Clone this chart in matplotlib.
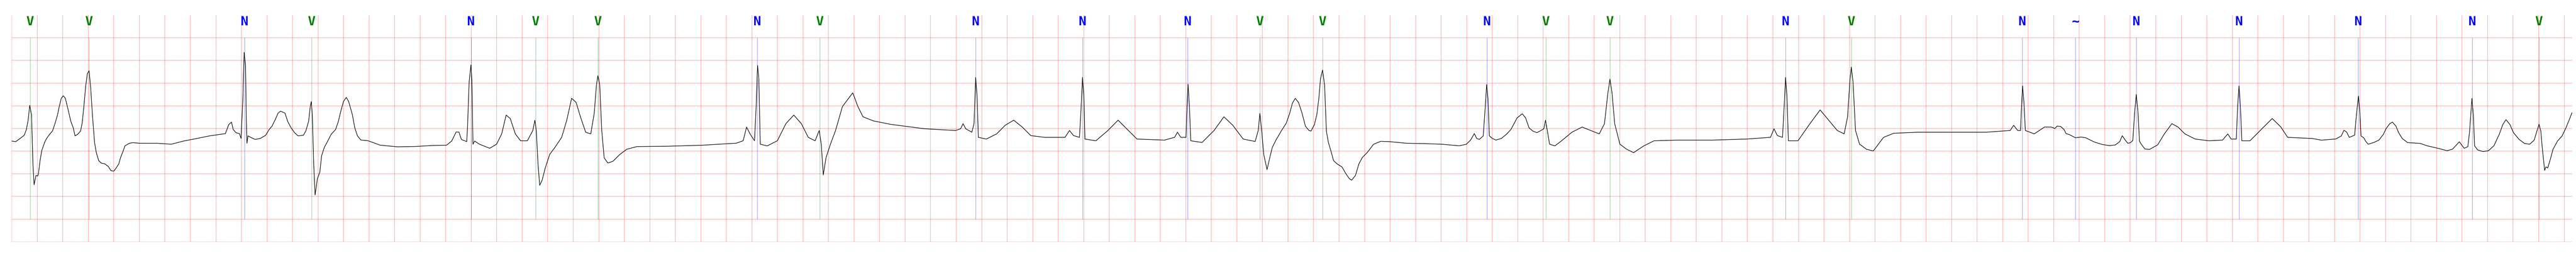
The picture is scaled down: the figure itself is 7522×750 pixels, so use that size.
import numpy as np
import matplotlib
matplotlib.use("Agg")
import matplotlib.pyplot as plt

# ---- data -------------------------------------------------------------
ecg_time = [
 0.000,0.031,0.069,0.098,0.115,0.128,0.141,0.155,0.166,0.175,0.190,0.203,0.209,0.222,0.235,0.257,0.270,0.297,0.319,0.340,
 0.359,0.372,0.388,0.404,0.420,0.442,0.463,0.482,0.496,0.517,0.539,0.552,0.565,0.579,0.592,0.606,0.619,0.632,0.649,0.662,
 0.681,0.702,0.729,0.756,0.777,0.799,0.818,0.839,0.853,0.874,0.887,0.922,0.949,1.003,1.140,1.250,1.346,1.413,1.550,1.674,
 1.700,1.722,1.735,1.757,1.784,1.797,1.811,1.821,1.832,1.837,1.843,1.851,1.880,1.907,1.947,1.990,2.017,2.039,2.065,2.087,
 2.106,2.141,2.162,2.189,2.216,2.243,2.285,2.304,2.326,2.339,2.347,2.355,2.366,2.377,2.395,2.414,2.428,2.449,2.476,2.503,
 2.538,2.559,2.578,2.599,2.621,2.640,2.669,2.688,2.709,2.736,2.790,2.833,2.887,3.023,3.160,3.297,3.407,3.447,3.482,3.504,
 3.523,3.565,3.571,3.584,3.598,3.606,3.614,3.627,3.665,
 3.745,3.799,3.839,3.874,3.906,3.946,3.987,4.040,4.083,4.099,4.110,4.124,4.137,4.156,4.180,4.215,4.255,4.309,4.349,4.387,
 4.422,4.456,4.497,4.537,4.564,4.582,4.593,4.607,4.623,4.642,4.671,4.711,4.765,4.819,4.899,5.141,5.409,5.677,5.731,5.758,
 5.785,5.820,5.833,5.844,5.854,5.865,5.919,5.999,6.066,6.128,6.187,6.241,6.295,6.327,6.343,6.359,6.380,6.415,6.455,6.509,
 6.590,6.630,6.670,6.751,6.885,7.153,7.395,7.435,7.454,7.475,7.523,7.540,7.553,7.564,7.574,7.636,7.717,7.784,7.851,7.918,
 7.985,8.092,8.253,8.288,8.320,8.366,8.377,8.390,8.401,8.409,8.495,8.589,8.669,8.736,8.817,9.032,9.112,9.134,9.160,9.201,
 9.209,9.217,9.228,9.238,9.327,9.421,9.498,9.568,9.649,9.743,9.767,9.780,9.794,9.810,
 9.836,9.858,9.877,9.906,9.947,9.987,10.014,10.035,10.057,10.083,10.110,10.137,10.164,10.180,10.207,10.226,10.242,10.255,
 10.271,10.287,10.301,10.317,10.336,10.357,10.384,10.424,10.454,10.481,10.499,10.529,10.556,10.583,10.623,10.671,10.727,
 10.795,10.931,11.068,11.205,11.342,11.398,11.431,11.460,11.479,11.500,11.530,11.546,11.557,11.567,11.578,11.602,11.629,
 11.672,11.712,11.747,11.774,11.795,11.836,11.862,11.889,11.919,11.951,11.983,
 12.005,12.018,12.032,12.050,12.091,12.144,12.225,12.305,12.372,12.439,12.480,12.507,12.523,12.539,12.560,12.601,12.654,
 12.708,12.788,12.869,13.057,13.325,13.593,13.781,13.808,13.835,13.875,13.888,13.899,13.910,13.921,13.996,14.090,14.170,
 14.237,14.304,14.358,14.385,14.404,14.414,14.428,14.447,14.479,14.533,14.586,14.667,14.747,14.935,15.203,15.471,15.659,
 15.686,15.718,15.740,15.748,15.756,15.767,15.778,15.847,15.928,15.982,
 16.009,16.027,16.054,16.081,16.097,16.124,16.170,16.215,16.250,16.277,16.322,16.384,16.438,16.483,16.518,16.537,16.559,
 16.580,16.599,16.620,16.634,16.647,16.661,16.672,16.688,16.715,16.752,16.779,16.814,
 16.867,16.926,16.974,17.028,17.109,17.216,17.323,17.364,17.390,17.431,17.441,17.452,17.463,17.474,17.538,17.618,17.712,
 17.780,17.833,
 17.887,18.028,18.098,18.211,18.253,18.274,18.295,18.316,18.358,18.372,18.388,18.400,18.408,18.429,18.443,18.464,18.506,
 18.548,18.583,18.604,18.633,18.654,18.682,18.703,18.731,18.773,18.872,18.928,19.012,19.083,19.125,19.167,19.178,19.202,
 19.216,19.245,19.259,19.277,19.288,19.298,19.322,19.364,19.406,19.449,19.491,19.519,19.544,19.575,19.603,19.646,19.688,
 19.730,19.765,19.786,19.803,19.817,19.828,19.847,19.857,19.871,19.892,19.913,19.948,19.983,20.011,20.040,20.061,
]

ecg_mv = [
 -0.278,-0.291,-0.213,-0.150,-0.022,0.176,0.509,0.303,-0.780,-1.241,-1.035,-1.049,-1.000,-0.709,-0.490,-0.313,-0.235,-0.128,-0.058,0.119,
 0.303,0.480,0.664,0.721,0.664,0.410,0.155,0.013,-0.164,-0.128,-0.058,0.119,0.480,0.920,1.203,1.273,0.877,0.303,-0.313,-0.525,
 -0.709,-0.766,-0.780,-0.837,-0.929,-0.943,-0.872,-0.780,-0.639,-0.490,-0.383,-0.327,-0.313,-0.327,-0.327,-0.348,-0.278,-0.242,-0.164,-0.114,
 0.083,0.140,-0.022,-0.093,-0.114,-0.221,0.664,1.677,1.387,0.303,-0.327,-0.164,-0.207,-0.242,-0.221,-0.150,-0.022,0.049,0.197,0.339,
 0.381,0.339,0.155,0.013,-0.093,-0.164,-0.150,-0.058,0.155,0.480,0.593,0.303,-0.780,-1.467,-1.106,-0.964,-0.603,-0.419,-0.278,-0.128,
 -0.022,0.155,0.374,0.593,0.685,0.593,0.303,0.013,-0.164,-0.256,-0.270,-0.313,-0.369,-0.405,-0.398,-0.376,-0.369,-0.278,-0.079,-0.079,
 -0.242,-0.291,0.013,1.025,1.401,1.025,-0.348,-0.278,-0.348,
 -0.437,-0.347,-0.120,0.295,0.219,-0.120,-0.272,-0.272,-0.045,0.182,-0.045,-0.800,-1.253,-1.140,-0.875,-0.573,-0.422,-0.196,0.182,0.665,
 0.574,0.257,-0.083,-0.120,0.333,0.975,1.164,0.975,-0.045,-0.649,-0.762,-0.724,-0.573,-0.459,-0.400,-0.392,-0.370,-0.325,-0.272,0.031,
 -0.120,-0.272,0.484,1.390,1.088,-0.347,-0.385,-0.272,0.106,0.295,0.106,-0.196,-0.272,-0.045,-0.347,-1.026,-0.649,-0.347,-0.045,0.484,
 0.786,0.484,0.257,0.167,0.091,-0.007,-0.045,-0.007,0.106,-0.007,-0.083,0.106,1.126,0.710,-0.196,-0.234,-0.120,0.069,0.182,0.031,
 -0.158,-0.196,-0.196,-0.045,-0.158,-0.196,0.333,1.126,0.710,-0.234,-0.272,-0.045,0.182,-0.007,-0.234,-0.257,-0.196,-0.083,-0.196,-0.196,
 0.484,0.975,0.484,-0.272,-0.309,-0.045,0.257,0.069,-0.234,-0.287,-0.045,0.333,-0.045,-0.573,
 -0.907,-0.639,-0.419,-0.256,-0.058,0.119,0.339,0.558,0.664,0.572,0.339,0.049,-0.043,-0.058,0.083,0.303,0.664,1.096,
 1.287,0.955,-0.058,-0.313,-0.490,-0.709,-0.780,-0.851,-1.000,-1.106,-1.141,-1.035,-0.780,-0.639,-0.525,-0.348,-0.284,
 -0.291,-0.327,-0.334,-0.348,-0.383,-0.348,-0.256,-0.114,-0.221,-0.242,-0.164,0.480,0.969,0.664,-0.164,-0.221,-0.256,
 -0.221,-0.128,-0.022,0.119,0.232,0.324,0.232,0.013,-0.058,-0.093,-0.043,
 -0.007,0.182,-0.045,-0.347,-0.385,-0.272,-0.083,0.031,-0.045,-0.120,0.106,0.786,1.088,0.786,0.106,-0.347,-0.459,
 -0.534,-0.385,-0.272,-0.257,-0.257,-0.234,-0.196,-0.007,-0.158,-0.196,0.484,1.126,0.710,-0.272,-0.272,0.106,0.408,
 0.182,-0.045,-0.120,0.257,1.088,1.353,1.013,-0.045,-0.347,-0.459,-0.497,-0.196,-0.106,-0.083,-0.083,-0.083,-0.045,
 0.069,-0.045,-0.045,0.484,0.937,0.559,-0.045,-0.120,0.031,0.030,
 0.000,0.052,0.044,-0.024,-0.114,-0.137,-0.205,-0.190,-0.205,-0.243,-0.303,-0.356,-0.379,-0.364,-0.288,-0.160,-0.251,
 -0.326,-0.318,-0.265,0.339,0.750,0.339,-0.281,-0.356,-0.454,-0.462,-0.417,-0.364,
 -0.120,0.106,0.031,-0.120,-0.234,-0.272,-0.257,-0.120,-0.234,-0.234,0.484,0.937,0.484,-0.272,-0.272,-0.045,0.219,
 0.031,-0.196,
 -0.203,-0.222,-0.258,-0.232,-0.167,-0.041,-0.077,-0.196,-0.149,0.302,0.718,0.302,-0.167,-0.203,-0.276,-0.348,-0.312,
 -0.258,-0.131,-0.005,0.104,0.140,0.050,-0.095,-0.222,-0.312,-0.330,-0.384,-0.438,-0.492,-0.456,-0.330,-0.294,-0.384,
 -0.438,-0.402,-0.059,0.664,0.302,-0.384,-0.474,-0.510,-0.492,-0.384,-0.131,0.086,0.194,0.086,-0.095,-0.240,-0.330,
 -0.348,-0.258,-0.059,0.093,-0.059,-0.420,-0.926,-0.846,-0.872,-0.673,-0.456,-0.276,-0.167,-0.005,0.194,0.346,
]

beat_times = [0.145, 0.606, 1.824, 2.350, 3.599, 4.105, 4.593, 5.841, 6.332, 7.553,
              8.390, 9.214, 9.780, 10.271, 11.559, 12.021, 12.523, 13.899, 14.414, 15.753,
              16.170, 16.647, 17.452, 18.386, 19.279, 19.803]
beat_labels = ["V", "V", "N", "V", "N", "V", "V", "N", "V", "N",
               "N", "N", "V", "V", "N", "V", "V", "N", "V", "N",
               "~", "N", "N", "N", "N", "V"]
label_colors = {"V": "green", "N": "blue", "~": "blue"}

# ---- figure -----------------------------------------------------------
fig = plt.figure(figsize=(75.22, 7.5), dpi=100)
ax = fig.add_axes([34.3 / 7522, 44.3 / 750, (7511 - 34.3) / 7522, (705.7 - 44) / 750])

ax.set_xlim(0, 20.063)
ax.set_ylim(-2.5, 2.5)
ax.set_xticks(np.arange(0, 20.001, 0.2))
ax.set_yticks(np.arange(-2.5, 2.01, 0.5))
ax.grid(True, color="red", alpha=0.25, linewidth=1.5)
ax.tick_params(length=0, labelbottom=False, labelleft=False)
for s in ax.spines.values():
    s.set_visible(False)

ax.plot(ecg_time, ecg_mv, color="black", linewidth=1.2, zorder=3)

for bt, lab in zip(beat_times, beat_labels):
    c = label_colors[lab]
    ax.vlines(bt, -2.0, 2.0, colors=c, alpha=0.5, linewidth=0.8, zorder=2)
    ax.text(bt, 0.997, lab, transform=ax.get_xaxis_transform(), ha="center", va="top",
            color=c, fontsize=27, fontweight="bold", family="DejaVu Sans Mono", zorder=4)

fig.savefig("out.png", dpi=100)
